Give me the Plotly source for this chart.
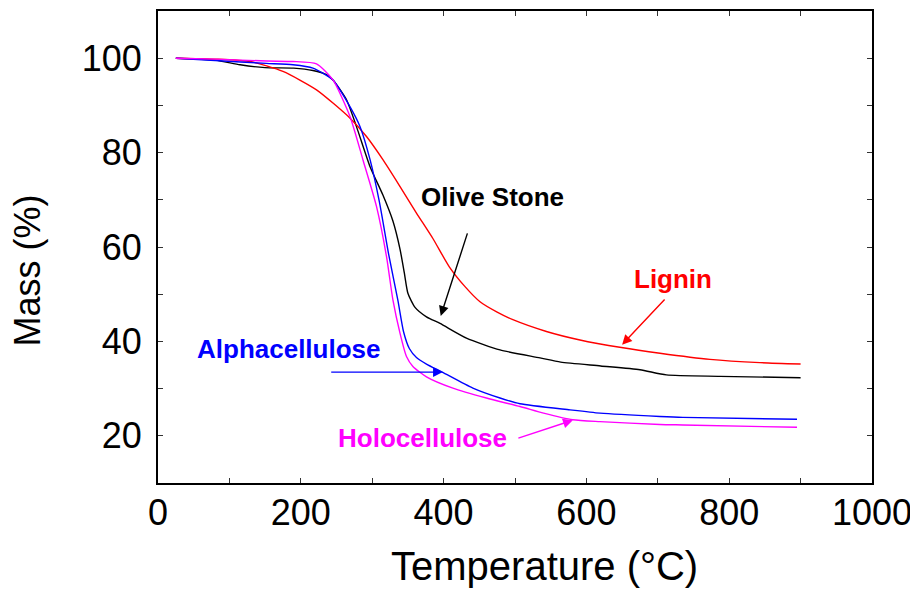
import plotly.graph_objects as go

# Olive Stone (black)
T_olive = [25, 80, 115, 150, 190, 217, 236, 245, 264, 278, 297, 315, 329, 339, 345, 350, 360, 376, 395, 432, 479, 535, 564, 620, 675, 712, 787, 900]
M_olive = [100, 99.6, 98.6, 98.0, 97.9, 97.4, 96.5, 95.4, 91.2, 85.5, 77.0, 71.0, 65.5, 59.5, 54.5, 50.2, 47.2, 45.2, 43.8, 40.7, 38.2, 36.5, 35.6, 34.8, 34.0, 32.9, 32.6, 32.3]

# Lignin (red)
T_lig = [25, 80, 129, 175, 222, 269, 292, 315, 339, 362, 385, 408, 430, 451, 475, 497, 544, 591, 649, 703, 773, 843, 900]
M_lig = [100, 99.8, 99.3, 97.2, 93.3, 87.3, 83.4, 78.5, 72.8, 67.2, 61.8, 55.8, 51.6, 48.4, 46.2, 44.6, 42.1, 40.3, 38.7, 37.5, 36.2, 35.5, 35.2]

# Alphacellulose (blue)
T_alpha = [25, 80, 152, 189, 217, 245, 269, 283, 297, 310, 323, 336, 344, 352, 362, 376, 398, 441, 479, 507, 577, 619, 703, 735, 895]
M_alpha = [100, 99.5, 98.9, 98.6, 97.9, 95.4, 89.7, 85.5, 78.5, 69.6, 58.5, 48.7, 42.0, 38.5, 36.6, 35.2, 33.5, 30.1, 28.0, 26.8, 25.5, 24.8, 24.1, 23.9, 23.5]

# Holocellulose (magenta)
T_holo = [25, 80, 152, 189, 222, 245, 269, 287, 306, 320, 329, 339, 348, 357, 376, 413, 460, 507, 540, 581, 619, 703, 735, 895]
M_holo = [100, 99.8, 99.4, 99.3, 98.8, 95.4, 87.6, 78.5, 68.6, 58.0, 48.8, 41.7, 36.8, 34.7, 32.5, 30.1, 28.0, 26.2, 24.8, 23.4, 23.0, 22.4, 22.3, 21.8]

x_ticks = list(range(0, 1001, 100))
x_labels = [str(v) if v % 200 == 0 else "" for v in x_ticks]
y_ticks = list(range(10, 111, 10))
y_labels = [str(v) if (v % 20 == 0 and v <= 100) else "" for v in y_ticks]

series = [
    ("Olive Stone", T_olive, M_olive, "#000000"),
    ("Lignin", T_lig, M_lig, "#FF0000"),
    ("Alphacellulose", T_alpha, M_alpha, "#0000FF"),
    ("Holocellulose", T_holo, M_holo, "#FF00FF"),
]

fig = go.Figure()
for name, t, m, c in series:
    fig.add_trace(go.Scatter(x=t, y=m, mode="lines", name=name,
                             line=dict(color=c, width=1.4, shape="spline", smoothing=0.6),
                             showlegend=False))

labels = [
    ("Olive Stone", 469, 70.6, "#000000"),
    ("Lignin", 721, 53.2, "#FF0000"),
    ("Alphacellulose", 184, 38.4, "#0000FF"),
    ("Holocellulose", 370, 19.5, "#FF00FF"),
]
for txt, x, y, c in labels:
    fig.add_annotation(x=x, y=y, text="<b>%s</b>" % txt, showarrow=False,
                       font=dict(family="Liberation Sans, Arial", size=26, color=c))

arrows = [
    (434, 63.2, 396, 45.4, "#000000"),
    (711.5, 49.2, 650, 39.3, "#FF0000"),
    (240.5, 33.5, 399, 33.5, "#0000FF"),
    (502.6, 19.4, 581, 23.3, "#FF00FF"),
]
for ax, ay, x, y, c in arrows:
    fig.add_annotation(x=x, y=y, ax=ax, ay=ay, xref="x", yref="y", axref="x", ayref="y",
                       text="", showarrow=True, arrowhead=2, arrowsize=1.4, arrowwidth=1.4,
                       arrowcolor=c, standoff=0, startstandoff=0)

# axis titles (placed as in the reference, slightly off-centre)
fig.add_annotation(xref="paper", yref="paper", x=0.542, y=-0.176, text="Temperature (°C)",
                   showarrow=False, xanchor="center", yanchor="middle",
                   font=dict(family="Liberation Sans, Arial", size=40, color="black"))
fig.add_annotation(xref="paper", yref="paper", x=-0.183, y=0.451, text="Mass (%)",
                   showarrow=False, textangle=-90, xanchor="center", yanchor="middle",
                   font=dict(family="Liberation Sans, Arial", size=36, color="black"))

fig.update_layout(
    width=910, height=581,
    margin=dict(l=150, r=46, t=3, b=106),
    paper_bgcolor="white", plot_bgcolor="white",
    font=dict(family="Liberation Sans, Arial", color="black"),
)
fig.update_xaxes(range=[0, 1000], tickvals=x_ticks, ticktext=x_labels,
                 ticks="inside", ticklen=5, tickwidth=1, tickcolor="#333",
                 showline=True, linecolor="black", linewidth=2, mirror="ticks",
                 showgrid=False, zeroline=False, automargin=False,
                 tickfont=dict(size=36), ticklabelstandoff=-3)
fig.update_yaxes(range=[10, 110], tickvals=y_ticks, ticktext=y_labels,
                 ticks="inside", ticklen=5, tickwidth=1, tickcolor="#333",
                 showline=True, linecolor="black", linewidth=2, mirror="ticks",
                 showgrid=False, zeroline=False, automargin=False,
                 tickfont=dict(size=36), ticklabelstandoff=7)

fig.write_html("out.html")
